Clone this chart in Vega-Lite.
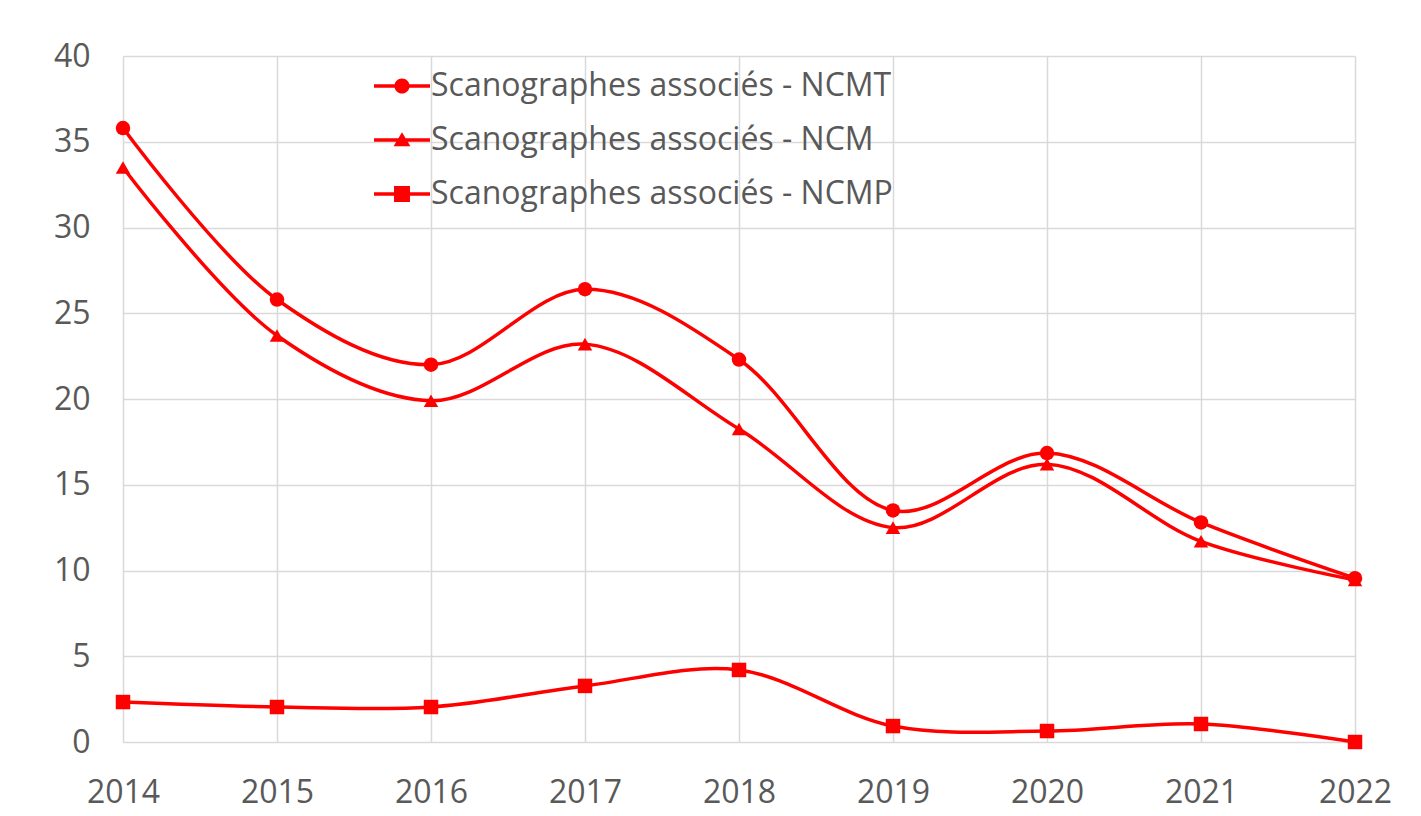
{
  "$schema": "https://vega.github.io/schema/vega-lite/v6.json",
  "width": 1232,
  "height": 686,
  "autosize": {"type": "none"},
  "padding": {"left": 123, "top": 56, "right": 66, "bottom": 74},
  "background": "white",
  "config": {
    "view": {"stroke": null},
    "font": "Open Sans",
    "axis": {
      "domain": false,
      "ticks": false,
      "grid": true,
      "gridColor": "#d9d9d9",
      "gridWidth": 1.5,
      "labelFont": "Open Sans",
      "labelFontSize": 32,
      "labelColor": "#595959",
      "labelFlush": false,
      "labelOverlap": false,
      "title": null
    }
  },
  "data": {
    "values": [
      {"year": 2014, "series": "Scanographes associés - NCMT", "value": 35.8},
      {"year": 2015, "series": "Scanographes associés - NCMT", "value": 25.8},
      {"year": 2016, "series": "Scanographes associés - NCMT", "value": 22.0},
      {"year": 2017, "series": "Scanographes associés - NCMT", "value": 26.4},
      {"year": 2018, "series": "Scanographes associés - NCMT", "value": 22.3},
      {"year": 2019, "series": "Scanographes associés - NCMT", "value": 13.5},
      {"year": 2020, "series": "Scanographes associés - NCMT", "value": 16.85},
      {"year": 2021, "series": "Scanographes associés - NCMT", "value": 12.8},
      {"year": 2022, "series": "Scanographes associés - NCMT", "value": 9.55},
      {"year": 2014, "series": "Scanographes associés - NCM", "value": 33.5},
      {"year": 2015, "series": "Scanographes associés - NCM", "value": 23.7},
      {"year": 2016, "series": "Scanographes associés - NCM", "value": 19.9},
      {"year": 2017, "series": "Scanographes associés - NCM", "value": 23.2},
      {"year": 2018, "series": "Scanographes associés - NCM", "value": 18.25},
      {"year": 2019, "series": "Scanographes associés - NCM", "value": 12.5},
      {"year": 2020, "series": "Scanographes associés - NCM", "value": 16.2},
      {"year": 2021, "series": "Scanographes associés - NCM", "value": 11.7},
      {"year": 2022, "series": "Scanographes associés - NCM", "value": 9.45},
      {"year": 2014, "series": "Scanographes associés - NCMP", "value": 2.33},
      {"year": 2015, "series": "Scanographes associés - NCMP", "value": 2.04},
      {"year": 2016, "series": "Scanographes associés - NCMP", "value": 2.04},
      {"year": 2017, "series": "Scanographes associés - NCMP", "value": 3.27},
      {"year": 2018, "series": "Scanographes associés - NCMP", "value": 4.2},
      {"year": 2019, "series": "Scanographes associés - NCMP", "value": 0.93},
      {"year": 2020, "series": "Scanographes associés - NCMP", "value": 0.64},
      {"year": 2021, "series": "Scanographes associés - NCMP", "value": 1.05},
      {"year": 2022, "series": "Scanographes associés - NCMP", "value": 0.0}
    ]
  },
  "encoding": {
    "x": {
      "field": "year",
      "type": "quantitative",
      "scale": {"domain": [2014, 2022], "nice": false, "zero": false},
      "axis": {"values": [2014, 2015, 2016, 2017, 2018, 2019, 2020, 2021, 2022], "format": "d", "labelPadding": 35}
    },
    "y": {
      "field": "value",
      "type": "quantitative",
      "scale": {"domain": [0, 40], "nice": false},
      "axis": {"values": [0, 5, 10, 15, 20, 25, 30, 35, 40], "labelPadding": 33}
    }
  },
  "layer": [
    {
      "mark": {"type": "line", "interpolate": "catmull-rom", "color": "#ff0000", "strokeWidth": 3.5},
      "encoding": {"detail": {"field": "series"}}
    },
    {
      "mark": {"type": "point", "filled": true, "color": "#ff0000", "opacity": 1, "size": 210},
      "encoding": {
        "shape": {
          "field": "series",
          "scale": {
            "domain": ["Scanographes associés - NCMT", "Scanographes associés - NCM", "Scanographes associés - NCMP"],
            "range": ["circle", "triangle-up", "square"]
          },
          "legend": null
        }
      }
    },
    {
      "transform": [{"filter": "datum.value < -999"}],
      "mark": {"type": "point", "filled": true, "color": "#ff0000", "opacity": 1, "size": 784},
      "encoding": {
        "shape": {
          "field": "series",
          "scale": {
            "domain": ["Scanographes associés - NCMT", "Scanographes associés - NCM", "Scanographes associés - NCMP"],
            "range": [
              "M-2,-0.125H2V0.125H-2Z M-0.54,0A0.54,0.54 0 1 1 0.54,0A0.54,0.54 0 1 1 -0.54,0Z",
              "M-2,-0.125H2V0.125H-2Z M0,-0.55L0.6,0.45L-0.6,0.45Z",
              "M-2,-0.125H2V0.125H-2Z M-0.57,-0.57H0.57V0.57H-0.57Z"
            ]
          },
          "legend": {
            "title": null,
            "orient": "none",
            "legendX": 263,
            "legendY": 14,
            "padding": 0,
            "rowPadding": 22,
            "labelOffset": 13,
            "labelLimit": 0,
            "labelFont": "Open Sans",
            "labelFontSize": 32,
            "labelColor": "#595959",
            "symbolSize": 784,
            "symbolStrokeWidth": 0,
            "symbolOpacity": 1,
            "symbolFillColor": "#ff0000"
          }
        }
      }
    }
  ],
  "resolve": {"scale": {"shape": "independent"}, "legend": {"shape": "independent"}}
}
